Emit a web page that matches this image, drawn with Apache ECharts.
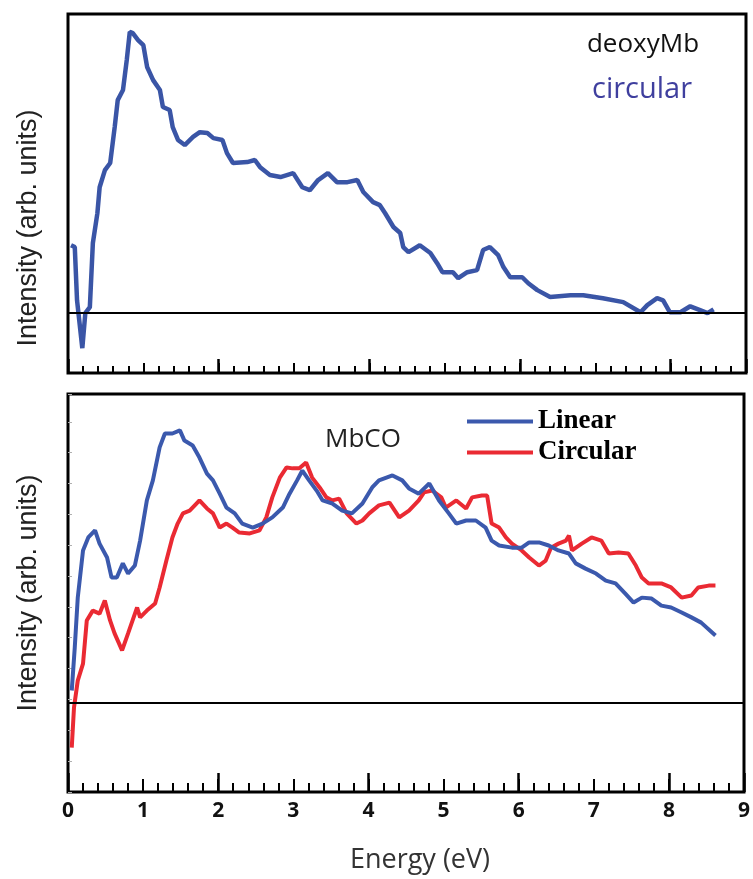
<!DOCTYPE html>
<html>
<head>
<meta charset="utf-8">
<script src="https://cdn.jsdelivr.net/npm/echarts@6/dist/echarts.min.js"></script>
<style>html,body{margin:0;padding:0;background:#fff;}#c{width:753px;height:879px;}</style>
</head>
<body>
<div id="c"></div>
<script>
// Top panel: deoxyMb, circular polarization
var topX = [0.04,0.09,0.12,0.19,0.23,0.29,0.33,0.39,0.42,0.49,0.56,0.62,0.66,0.73,0.78,0.82,0.86,0.93,1.00,1.05,1.13,1.22,1.26,1.35,1.39,1.46,1.55,1.66,1.75,1.85,1.93,2.05,2.11,2.19,2.38,2.48,2.55,2.68,2.82,2.99,3.11,3.21,3.32,3.45,3.57,3.71,3.84,3.92,4.05,4.14,4.21,4.32,4.41,4.45,4.52,4.67,4.81,4.90,4.97,5.11,5.18,5.30,5.43,5.51,5.60,5.71,5.78,5.87,6.03,6.11,6.23,6.40,6.67,6.84,7.10,7.37,7.60,7.69,7.82,7.90,7.99,8.13,8.26,8.39,8.49,8.57];
var topY = [0.227,0.221,0.043,-0.117,0.0,0.02,0.234,0.334,0.421,0.478,0.502,0.622,0.712,0.746,0.846,0.94,0.936,0.913,0.896,0.823,0.779,0.746,0.689,0.679,0.622,0.579,0.562,0.589,0.605,0.602,0.585,0.579,0.535,0.502,0.505,0.512,0.488,0.462,0.455,0.468,0.421,0.411,0.445,0.468,0.438,0.438,0.445,0.405,0.371,0.361,0.334,0.288,0.268,0.221,0.204,0.227,0.201,0.167,0.137,0.137,0.117,0.137,0.144,0.211,0.221,0.194,0.154,0.120,0.120,0.100,0.077,0.054,0.060,0.060,0.050,0.037,0.003,0.027,0.050,0.043,0.003,0.003,0.023,0.010,0.0,0.013];

// Bottom panel: MbCO, linear polarization
var linX = [0.05,0.09,0.13,0.20,0.27,0.36,0.42,0.52,0.58,0.65,0.73,0.80,0.89,0.96,1.05,1.13,1.22,1.29,1.39,1.49,1.55,1.66,1.75,1.85,1.93,2.02,2.11,2.22,2.32,2.46,2.59,2.72,2.86,2.95,3.05,3.12,3.21,3.31,3.39,3.52,3.65,3.78,3.92,4.05,4.14,4.32,4.45,4.54,4.67,4.81,4.94,5.07,5.17,5.30,5.43,5.56,5.64,5.74,5.91,6.04,6.14,6.27,6.40,6.53,6.67,6.76,6.89,7.03,7.16,7.29,7.42,7.53,7.64,7.77,7.90,8.03,8.17,8.30,8.43,8.62];
var linY = [0.039,0.178,0.340,0.493,0.535,0.558,0.515,0.470,0.405,0.405,0.451,0.418,0.444,0.525,0.655,0.720,0.827,0.872,0.872,0.882,0.849,0.833,0.794,0.742,0.720,0.677,0.632,0.613,0.580,0.567,0.580,0.600,0.632,0.677,0.720,0.752,0.720,0.687,0.655,0.645,0.622,0.613,0.645,0.697,0.720,0.736,0.720,0.694,0.677,0.710,0.655,0.613,0.580,0.590,0.590,0.567,0.525,0.509,0.502,0.502,0.519,0.519,0.509,0.493,0.483,0.451,0.434,0.418,0.395,0.386,0.353,0.324,0.340,0.337,0.314,0.308,0.292,0.276,0.259,0.217];

// Bottom panel: MbCO, circular polarization
var cirX = [0.05,0.08,0.13,0.20,0.25,0.33,0.42,0.49,0.56,0.62,0.72,0.80,0.86,0.92,0.96,1.05,1.16,1.22,1.31,1.39,1.46,1.53,1.62,1.71,1.75,1.85,1.93,2.02,2.11,2.19,2.28,2.42,2.55,2.64,2.72,2.82,2.91,2.99,3.08,3.17,3.25,3.35,3.44,3.52,3.61,3.71,3.84,3.92,4.01,4.14,4.28,4.41,4.54,4.67,4.74,4.85,4.97,5.03,5.17,5.30,5.38,5.51,5.58,5.64,5.74,5.83,5.91,6.04,6.14,6.27,6.36,6.43,6.53,6.63,6.67,6.71,6.84,6.97,7.10,7.20,7.33,7.46,7.56,7.64,7.73,7.90,8.03,8.17,8.30,8.39,8.53,8.62];
var cirY = [-0.146,-0.016,0.071,0.126,0.266,0.298,0.288,0.331,0.266,0.224,0.169,0.224,0.266,0.308,0.276,0.298,0.321,0.373,0.460,0.535,0.580,0.613,0.622,0.645,0.655,0.629,0.613,0.567,0.580,0.567,0.551,0.548,0.558,0.600,0.665,0.729,0.762,0.759,0.759,0.778,0.729,0.697,0.665,0.655,0.661,0.613,0.580,0.590,0.613,0.639,0.648,0.600,0.622,0.655,0.681,0.687,0.665,0.632,0.655,0.629,0.665,0.671,0.671,0.580,0.567,0.535,0.515,0.493,0.470,0.444,0.460,0.502,0.515,0.525,0.541,0.493,0.515,0.535,0.525,0.483,0.486,0.483,0.444,0.405,0.386,0.386,0.373,0.340,0.347,0.373,0.379,0.379];

var xTickLabels = ['0','1','2','3','4','5','6','7','8','9'];

function zip(xs, ys) { return xs.map(function (x, i) { return [x, ys[i]]; }); }

var BLUE_TOP = '#3a55a6';
var BLUE = '#3b59ad';
var RED = '#ea2a33';

function xAxes(gridIndex, big, showLabels) {
  return [
    {
      gridIndex: gridIndex, type: 'value', min: 0, max: 9, interval: 1, position: 'bottom',
      axisLine: { show: false, onZero: false },
      axisTick: { show: true, inside: true, length: big ? 13 : 10, lineStyle: { color: '#000', width: 2 } },
      minorTick: { show: true, splitNumber: 5, length: big ? 9 : 7, lineStyle: { color: '#000', width: 2 } },
      splitLine: { show: false },
      axisLabel: showLabels ? {
        show: true, margin: 9, fontSize: 21, fontWeight: 'bold', color: '#111',
        fontFamily: '"Open Sans", sans-serif',
        formatter: function (v) { return xTickLabels[Math.round(v)]; }
      } : { show: false }
    },
    {
      gridIndex: gridIndex, type: 'value', min: 0, max: 9, interval: 2, position: 'bottom',
      axisLine: { show: false, onZero: false },
      axisTick: { show: true, inside: true, length: big ? 19 : 14, lineStyle: { color: '#000', width: 2.5 } },
      splitLine: { show: false }, axisLabel: { show: false }
    }
  ];
}

var baseline = {
  silent: true, symbol: ['none', 'none'], label: { show: false },
  lineStyle: { color: '#000', width: 2, type: 'solid' },
  data: [{ yAxis: 0 }]
};

var option = {
  backgroundColor: '#fff',
  animation: false,
  grid: [
    { left: 68, right: 7, top: 14, height: 359, show: true, borderColor: '#000', borderWidth: 3, backgroundColor: 'transparent' },
    { left: 68, right: 7, top: 394, height: 398, show: true, borderColor: '#000', borderWidth: 3, backgroundColor: 'transparent' }
  ],
  xAxis: xAxes(0, false, false).concat(xAxes(1, true, true)),
  yAxis: [
    { gridIndex: 0, type: 'value', min: -0.2, max: 1.0, axisLine: { show: false, onZero: false }, axisTick: { show: false }, axisLabel: { show: false }, splitLine: { show: false } },
    { gridIndex: 1, type: 'value', min: -0.29, max: 1.0, interval: 0.1,
      axisLine: { show: false, onZero: false },
      axisTick: { show: true, inside: true, length: 4, lineStyle: { color: '#b0b0b0', width: 1 } },
      axisLabel: { show: false }, splitLine: { show: false } }
  ],
  legend: {
    data: ['Linear', 'Circular'],
    orient: 'vertical', left: 462, top: 403,
    icon: 'rect', itemWidth: 66, itemHeight: 4, itemGap: 4,
    textStyle: { fontFamily: '"Liberation Serif", serif', fontWeight: 'bold', fontSize: 27, color: '#000', padding: [0, 0, 0, 0] }
  },
  series: [
    { name: 'circular', type: 'line', xAxisIndex: 0, yAxisIndex: 0, data: zip(topX, topY),
      showSymbol: false, lineStyle: { color: BLUE_TOP, width: 4.5 }, itemStyle: { color: BLUE_TOP }, markLine: baseline, z: 3 },
    { name: 'Circular', type: 'line', xAxisIndex: 2, yAxisIndex: 1, data: zip(cirX, cirY),
      showSymbol: false, lineStyle: { color: RED, width: 4 }, itemStyle: { color: RED }, markLine: baseline, z: 3 },
    { name: 'Linear', type: 'line', xAxisIndex: 2, yAxisIndex: 1, data: zip(linX, linY),
      showSymbol: false, lineStyle: { color: BLUE, width: 4 }, itemStyle: { color: BLUE }, z: 4 }
  ],
  graphic: [
    { type: 'text', x: 643, y: 45, style: { text: 'deoxyMb', fontSize: 26, fontFamily: '"Open Sans", sans-serif', fill: '#111', textAlign: 'center', textVerticalAlign: 'middle' } },
    { type: 'text', x: 642, y: 90, style: { text: 'circular', fontSize: 29, fontFamily: '"Open Sans", sans-serif', fill: '#3f3f9e', textAlign: 'center', textVerticalAlign: 'middle' } },
    { type: 'text', x: 363, y: 440, style: { text: 'MbCO', fontSize: 26, fontFamily: '"Open Sans", sans-serif', fill: '#222', textAlign: 'center', textVerticalAlign: 'middle' } },
    { type: 'text', x: 29, y: 228, rotation: Math.PI / 2, style: { text: 'Intensity (arb. units)', fontSize: 27, fontFamily: '"Liberation Sans", Arial, sans-serif', fill: '#222', textAlign: 'center', textVerticalAlign: 'middle' } },
    { type: 'text', x: 29, y: 593, rotation: Math.PI / 2, style: { text: 'Intensity (arb. units)', fontSize: 27, fontFamily: '"Liberation Sans", Arial, sans-serif', fill: '#222', textAlign: 'center', textVerticalAlign: 'middle' } },
    { type: 'text', x: 420, y: 860, style: { text: 'Energy (eV)', fontSize: 27, fontFamily: '"Open Sans", sans-serif', fill: '#333', textAlign: 'center', textVerticalAlign: 'middle' } }
  ]
};

var chart = echarts.init(document.getElementById('c'), null, { renderer: 'canvas' });
chart.setOption(option);
</script>
</body>
</html>
